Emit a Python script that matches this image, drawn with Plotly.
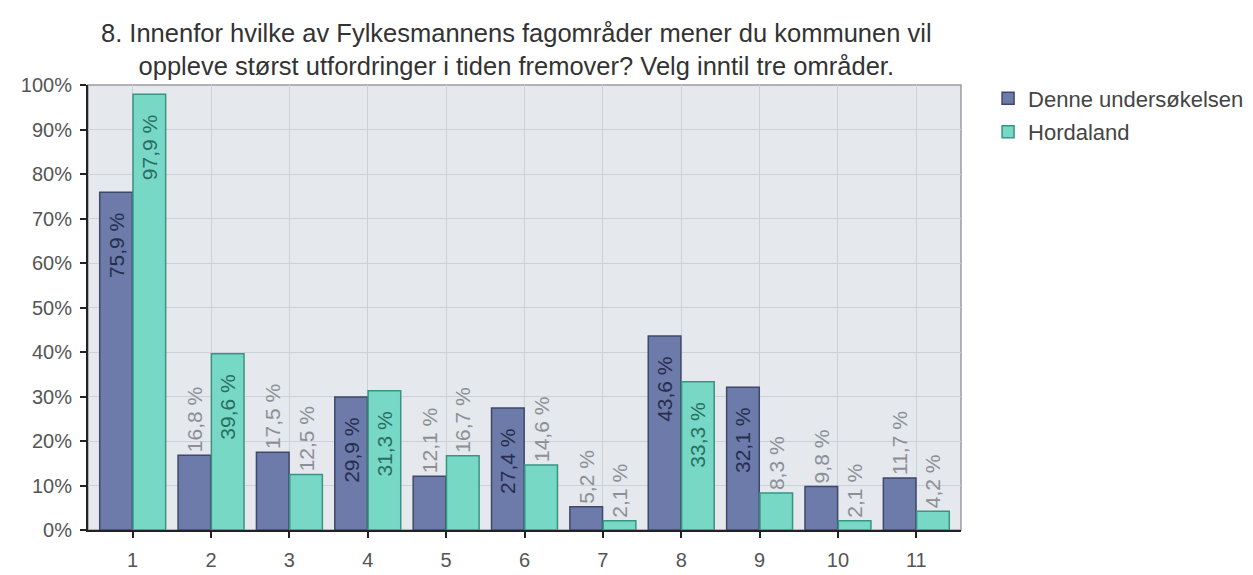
import plotly.graph_objects as go

categories = ["1", "2", "3", "4", "5", "6", "7", "8", "9", "10", "11"]
denne = [75.9, 16.8, 17.5, 29.9, 12.1, 27.4, 5.2, 43.6, 32.1, 9.8, 11.7]
hordaland = [97.9, 39.6, 12.5, 31.3, 16.7, 14.6, 2.1, 33.3, 8.3, 2.1, 4.2]
series_names = ["Denne undersøkelsen", "Hordaland"]
title_lines = [
    "8. Innenfor hvilke av Fylkesmannens fagområder mener du kommunen vil",
    "oppleve størst utfordringer i tiden fremover? Velg inntil tre områder.",
]
y_ticks = list(range(0, 101, 10))

FONT = "Liberation Sans, Arial, Helvetica, sans-serif"
NBSP = "\u00a0"


def inside(v):
    return v >= 25


def fmt(v):
    s = f"{v:.1f}".replace(".", ",") + NBSP + "%"
    return s + NBSP * 3 if inside(v) else s


fig = go.Figure()
styles = [
    dict(fill="#6d7bab", line="#3f4869", inside="#262e4d"),
    dict(fill="#76d8c5", line="#3a9383", inside="#2a6e62"),
]
for name, vals, st in zip(series_names, [denne, hordaland], styles):
    fig.add_trace(go.Bar(
        x=categories, y=vals, name=name, legendgroup=name,
        marker=dict(color=st["fill"], line=dict(color=st["line"], width=1.5)),
        text=[fmt(v) for v in vals],
        textposition=["inside" if inside(v) else "outside" for v in vals],
        textangle=-90,
        insidetextanchor="end",
        insidetextfont=dict(family=FONT, size=21, color=st["inside"]),
        outsidetextfont=dict(family=FONT, size=21, color="#8c9096"),
        constraintext="none",
        cliponaxis=False,
        hoverinfo="skip",
    ))

fig.add_shape(type="rect", xref="paper", yref="paper", x0=0, x1=1, y0=0, y1=1,
              line=dict(color="#9a9ca0", width=1.5), layer="below")

fig.add_annotation(
    text="<br>".join(title_lines),
    xref="paper", yref="paper", x=0.4903, y=1.0787,
    xanchor="center", yanchor="middle", showarrow=False,
    font=dict(family=FONT, size=25.5, color="#333"),
)

fig.update_layout(
    width=1253, height=575,
    margin=dict(l=80, r=293, t=77, b=34),
    paper_bgcolor="white",
    plot_bgcolor="#e5e8ec",
    barmode="group",
    bargap=0.15,
    bargroupgap=0.02,
    font=dict(family=FONT, color="#555"),
    legend=dict(
        x=1.031, xanchor="left", y=1.017, yanchor="top",
        font=dict(family=FONT, size=22, color="#444"),
        tracegroupgap=2,
        bgcolor="rgba(0,0,0,0)",
    ),
    showlegend=True,
)
fig.update_xaxes(
    type="category",
    range=[-0.57, 10.57],
    showgrid=True, gridcolor="#cdd1d7", gridwidth=1,
    showline=True, linecolor="#222", linewidth=2,
    ticks="outside", ticklen=6, tickcolor="#222", tickwidth=1.5,
    ticklabelstandoff=5,
    tickfont=dict(family=FONT, size=20, color="#555"),
)
fig.update_yaxes(
    range=[0, 100],
    tickvals=y_ticks, ticktext=[f"{t}%" for t in y_ticks],
    showgrid=True, gridcolor="#cdd1d7", gridwidth=1,
    showline=True, linecolor="#222", linewidth=2,
    ticks="outside", ticklen=6, tickcolor="#222", tickwidth=1.5,
    ticklabelstandoff=4,
    tickfont=dict(family=FONT, size=20, color="#555"),
    zeroline=False,
)

fig.write_html("out.html")
